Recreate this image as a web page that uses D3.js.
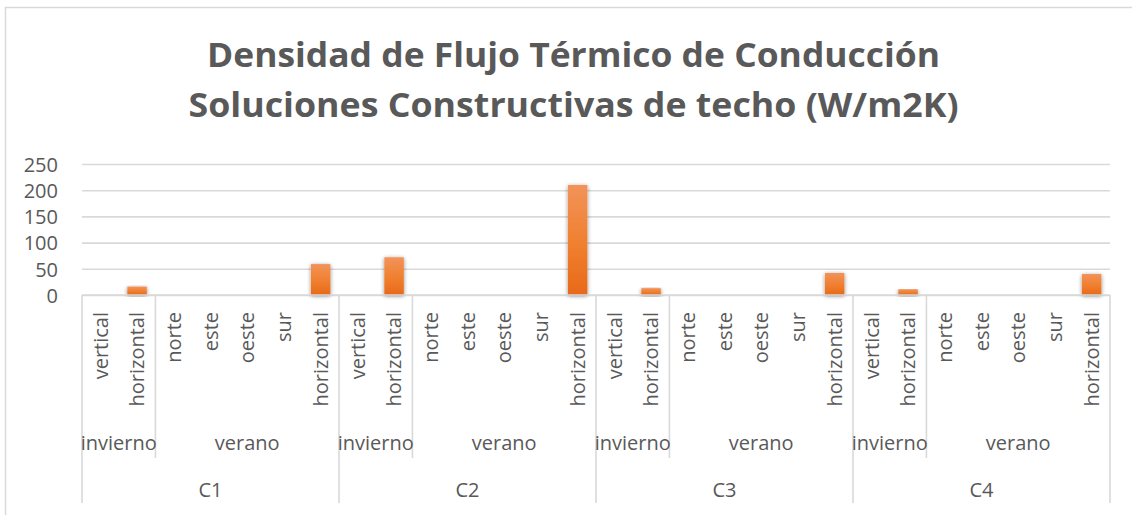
<!DOCTYPE html>
<html>
<head>
<meta charset="utf-8">
<script src="https://cdn.jsdelivr.net/npm/d3@7"></script>
<style>
  html, body { margin: 0; padding: 0; background: #fff; }
  svg { display: block; }
  text { font-family: "Open Sans", sans-serif; fill: #595959; }
</style>
</head>
<body>
<svg id="chart" width="1132" height="515"></svg>
<script>
// Conductive heat-flux density per roof solution (W/m2K)
const titleLines = ["Densidad de Flujo Térmico de Conducción", "Soluciones Constructivas de techo (W/m2K)"];
const solutions = ["C1", "C2", "C3", "C4"];
const seasons = ["invierno", "verano"];
const winterOrientations = ["vertical", "horizontal"];
const summerOrientations = ["norte", "este", "oeste", "sur", "horizontal"];
const valuesC1 = [0, 16, 0, 0, 0, 0, 59];
const valuesC2 = [0, 72, 0, 0, 0, 0, 210];
const valuesC3 = [0, 13, 0, 0, 0, 0, 42];
const valuesC4 = [0, 11, 0, 0, 0, 0, 40];
const yTicks = [0, 50, 100, 150, 200, 250];

const seriesBySolution = [valuesC1, valuesC2, valuesC3, valuesC4];
const orientationsPerSeason = [winterOrientations, summerOrientations];

// flatten into one row per leaf category
const rows = [];
solutions.forEach((sol, si) => {
  let k = 0;
  seasons.forEach((season, ti) => {
    orientationsPerSeason[ti].forEach(o => {
      rows.push({ id: sol + "|" + season + "|" + o, solution: sol, season, orientation: o, value: seriesBySolution[si][k++] });
    });
  });
});

const svg = d3.select("#chart");
const W = 1132, H = 515;
const plot = { left: 82, right: 1110, top: 164, bottom: 295 };
const grid = "#d9d9d9";

// outer chart frame
svg.append("rect")
  .attr("x", 5.5).attr("y", 7.5)
  .attr("width", W + 20).attr("height", H + 20)
  .attr("fill", "#fff").attr("stroke", grid).attr("stroke-width", 1.5);

const defs = svg.append("defs");
const grad = defs.append("linearGradient").attr("id", "barFill")
  .attr("x1", 0).attr("y1", 0).attr("x2", 0).attr("y2", 1);
grad.append("stop").attr("offset", "0%").attr("stop-color", "#F2935A");
grad.append("stop").attr("offset", "55%").attr("stop-color", "#F07F2E");
grad.append("stop").attr("offset", "100%").attr("stop-color", "#E8691A");
const shadow = defs.append("filter").attr("id", "barShadow")
  .attr("x", "-40%").attr("y", "-20%").attr("width", "180%").attr("height", "140%");
shadow.append("feGaussianBlur").attr("in", "SourceAlpha").attr("stdDeviation", 2.2).attr("result", "b");
shadow.append("feOffset").attr("in", "b").attr("dx", 0).attr("dy", 1).attr("result", "o");
shadow.append("feComponentTransfer").attr("in", "o").attr("result", "s")
  .append("feFuncA").attr("type", "linear").attr("slope", 0.45);
const merge = shadow.append("feMerge");
merge.append("feMergeNode").attr("in", "s");
merge.append("feMergeNode").attr("in", "SourceGraphic");

// two-line bold title, condensed to its line width
const titleWidths = [733, 770];
const titleBase = [67, 117];
titleLines.forEach((line, i) => {
  svg.append("text")
    .attr("x", (207 + 940) / 2)
    .attr("y", titleBase[i])
    .attr("text-anchor", "middle")
    .attr("textLength", titleWidths[i])
    .attr("lengthAdjust", "spacingAndGlyphs")
    .style("font-weight", "bold")
    .style("font-size", "34px")
    .text(line);
});

const x = d3.scaleBand().domain(rows.map(d => d.id))
  .range([plot.left, plot.right]).paddingInner(0.47).paddingOuter(0.235);
const step = x.step();
const y = d3.scaleLinear().domain([0, 250]).range([plot.bottom, plot.top]);

// gridlines + value labels
const yAxis = d3.axisLeft(y).tickValues(yTicks).tickSize(-(plot.right - plot.left)).tickPadding(24);
const gy = svg.append("g").attr("transform", `translate(${plot.left},0)`).call(yAxis);
gy.select(".domain").remove();
gy.selectAll(".tick line").attr("stroke", grid).attr("stroke-width", 1.6);
gy.selectAll(".tick text")
  .style("font-family", "'Open Sans', sans-serif").style("font-size", "20px")
  .attr("fill", "#595959").attr("dy", "0.36em");

// bars
svg.append("g").selectAll("rect").data(rows.filter(d => d.value > 0)).join("rect")
  .attr("x", d => x(d.id))
  .attr("width", x.bandwidth())
  .attr("y", d => y(d.value))
  .attr("height", d => y(0) - y(d.value))
  .attr("fill", "url(#barFill)")
  .attr("filter", "url(#barShadow)");

// category axis: leaf labels
const leafTop = 312;
svg.append("g").selectAll("text").data(rows).join("text")
  .attr("transform", d => `translate(${x(d.id) + x.bandwidth() / 2},${leafTop}) rotate(-90)`)
  .attr("text-anchor", "end")
  .attr("dy", "0.36em")
  .style("font-size", "20px")
  .text(d => d.orientation);

// season labels & dividers
const seasonLabelY = 443, solutionLabelY = 490;
const seasonDividerEnd = 458, groupDividerEnd = 503;
const lines = svg.append("g").attr("stroke", grid).attr("stroke-width", 1.6);
let idx = 0;
solutions.forEach((sol, si) => {
  const gStart = plot.left + idx * step;
  seasons.forEach((season, ti) => {
    const n = orientationsPerSeason[ti].length;
    const sStart = plot.left + idx * step;
    const sEnd = sStart + n * step;
    svg.append("text")
      .attr("x", (sStart + sEnd) / 2).attr("y", seasonLabelY)
      .attr("text-anchor", "middle").attr("dy", "0.36em")
      .style("font-size", "20px").text(season);
    if (ti > 0) {
      lines.append("line").attr("x1", sStart).attr("x2", sStart)
        .attr("y1", plot.bottom).attr("y2", seasonDividerEnd);
    }
    idx += n;
  });
  const gEnd = plot.left + idx * step;
  svg.append("text")
    .attr("x", (gStart + gEnd) / 2).attr("y", solutionLabelY)
    .attr("text-anchor", "middle").attr("dy", "0.36em")
    .style("font-size", "20px").text(sol);
  lines.append("line").attr("x1", gStart).attr("x2", gStart)
    .attr("y1", plot.bottom).attr("y2", groupDividerEnd);
  if (si === solutions.length - 1) {
    lines.append("line").attr("x1", gEnd).attr("x2", gEnd)
      .attr("y1", plot.bottom).attr("y2", groupDividerEnd);
  }
});
lines.append("line").attr("x1", plot.left).attr("x2", plot.right)
  .attr("y1", plot.bottom).attr("y2", plot.bottom);
</script>
</body>
</html>
